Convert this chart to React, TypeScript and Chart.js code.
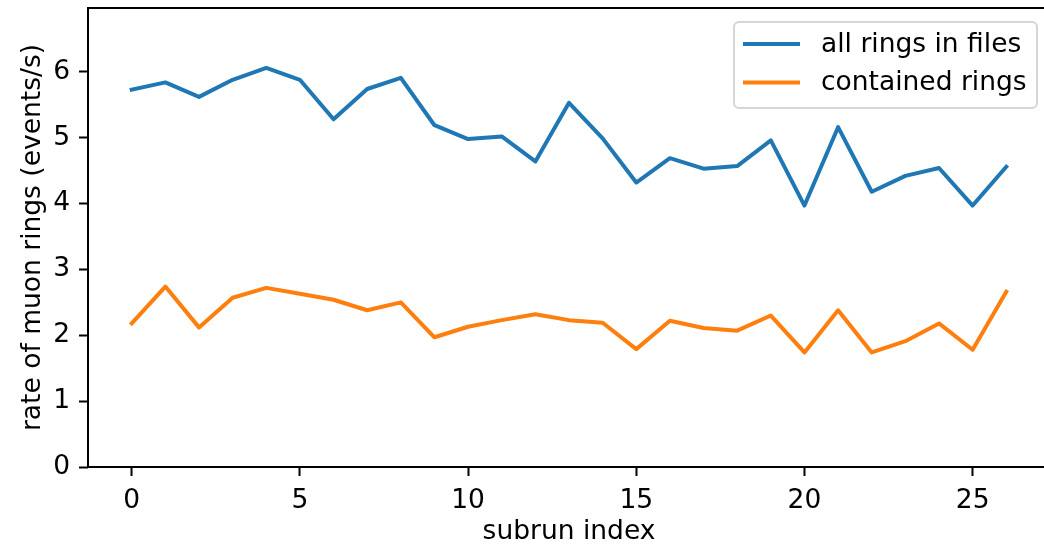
import React, { useEffect, useRef } from "react";
import { Chart, registerables } from "chart.js";

Chart.register(...registerables);

const subrunIndex = [0, 1, 2, 3, 4, 5, 6, 7, 8, 9, 10, 11, 12, 13, 14, 15, 16, 17, 18, 19, 20, 21, 22, 23, 24, 25, 26];
const allRings = [5.73, 5.84, 5.62, 5.88, 6.06, 5.88, 5.28, 5.74, 5.91, 5.19, 4.98, 5.02, 4.64, 5.53, 4.99, 4.32, 4.69, 4.53, 4.57, 4.96, 3.97, 5.16, 4.18, 4.42, 4.54, 3.97, 4.56];
const containedRings = [2.18, 2.74, 2.12, 2.57, 2.72, 2.63, 2.54, 2.38, 2.5, 1.97, 2.13, 2.23, 2.32, 2.23, 2.19, 1.79, 2.22, 2.11, 2.07, 2.3, 1.74, 2.38, 1.74, 1.91, 2.18, 1.78, 2.66];
const seriesLabels = ["all rings in files", "contained rings"];
const xTicks = [0, 5, 10, 15, 20, 25];
const yTicks = [0, 1, 2, 3, 4, 5, 6];
const xTitle = "subrun index";
const yTitle = "rate of muon rings (events/s)";

const FONT = "'DejaVu Sans', sans-serif";
const FS = 26.5;

const framePlugin = {
  id: "frame",
  afterDatasetsDraw(chart: any) {
    const { ctx, chartArea: a } = chart;
    ctx.save();
    ctx.strokeStyle = "#000";
    ctx.lineWidth = 2;
    ctx.lineCap = "square";
    ctx.strokeRect(a.left, a.top, a.right - a.left, a.bottom - a.top);
    ctx.restore();
  },
};

const legendPlugin = {
  id: "boxLegend",
  afterDraw(chart: any) {
    const { ctx } = chart;
    const x0 = 734, y0 = 22, w = 303, h = 86, r = 5;
    ctx.save();
    ctx.beginPath();
    ctx.moveTo(x0 + r, y0);
    ctx.arcTo(x0 + w, y0, x0 + w, y0 + h, r);
    ctx.arcTo(x0 + w, y0 + h, x0, y0 + h, r);
    ctx.arcTo(x0, y0 + h, x0, y0, r);
    ctx.arcTo(x0, y0, x0 + w, y0, r);
    ctx.closePath();
    ctx.fillStyle = "rgba(255,255,255,0.8)";
    ctx.fill();
    ctx.strokeStyle = "#d6d6d6";
    ctx.lineWidth = 2;
    ctx.stroke();
    ctx.font = `${FS}px ${FONT}`;
    ctx.textBaseline = "middle";
    ctx.fillStyle = "#000";
    chart.data.datasets.forEach((ds: any, i: number) => {
      const y = 44 + i * 38.5;
      ctx.strokeStyle = ds.borderColor;
      ctx.lineWidth = 4;
      ctx.lineCap = "butt";
      ctx.beginPath();
      ctx.moveTo(743, y);
      ctx.lineTo(800, y);
      ctx.stroke();
      ctx.fillText(ds.label, 821, y + 1);
    });
    ctx.restore();
  },
};

export default function App() {
  const ref = useRef<HTMLCanvasElement>(null);
  useEffect(() => {
    const canvas = ref.current!;
    const mk = (vals: number[]) => subrunIndex.map((x, i) => ({ x, y: vals[i] }));
    const chart = new Chart(canvas, {
      type: "line",
      data: {
        datasets: [
          { label: seriesLabels[0], data: mk(allRings), borderColor: "#1f77b4", backgroundColor: "#1f77b4", borderWidth: 4, pointRadius: 0, tension: 0, borderJoinStyle: "round", borderCapStyle: "square" },
          { label: seriesLabels[1], data: mk(containedRings), borderColor: "#ff7f0e", backgroundColor: "#ff7f0e", borderWidth: 4, pointRadius: 0, tension: 0, borderJoinStyle: "round", borderCapStyle: "square" },
        ],
      },
      options: {
        animation: false,
        responsive: false,
        devicePixelRatio: 1,
        layout: { padding: { top: 8, right: 2, left: 0, bottom: 0 } },
        plugins: { legend: { display: false }, tooltip: { enabled: false } },
        scales: {
          x: {
            type: "linear",
            min: -1.3,
            max: 27.3,
            afterFit: (s: any) => { s.height = 81; s.paddingLeft = 0; s.paddingRight = 0; s.paddingTop = 0; s.paddingBottom = 0; },
            afterBuildTicks: (s: any) => { s.ticks = xTicks.map((v) => ({ value: v })); },
            grid: { drawOnChartArea: false, drawTicks: true, tickLength: 9, tickColor: "#000", tickWidth: 2 },
            border: { display: false },
            ticks: { color: "#000", font: { family: FONT, size: FS }, padding: 9, maxRotation: 0, autoSkip: false },
            title: { display: true, text: xTitle, color: "#000", font: { family: FONT, size: FS }, padding: { top: 0, bottom: 0 } },
          },
          y: {
            type: "linear",
            min: 0,
            max: 6.97,
            afterFit: (s: any) => { s.width = 88; s.paddingLeft = 0; s.paddingRight = 0; s.paddingTop = 0; s.paddingBottom = 0; },
            afterBuildTicks: (s: any) => { s.ticks = yTicks.map((v) => ({ value: v })); },
            grid: { drawOnChartArea: false, drawTicks: true, tickLength: 9, tickColor: "#000", tickWidth: 2 },
            border: { display: false },
            ticks: { color: "#000", font: { family: FONT, size: FS }, padding: 9, autoSkip: false },
            title: { display: true, text: yTitle, color: "#000", font: { family: FONT, size: FS }, padding: { top: 17, bottom: 0 } },
          },
        },
      },
      plugins: [framePlugin, legendPlugin],
    } as any);
    return () => chart.destroy();
  }, []);
  return (
    <div style={{ position: "fixed", left: 0, top: 0, width: 1044, height: 548, overflow: "hidden", background: "#fff" }}>
      <canvas ref={ref} width={1052} height={548} style={{ width: 1052, height: 548, display: "block" }} />
    </div>
  );
}
